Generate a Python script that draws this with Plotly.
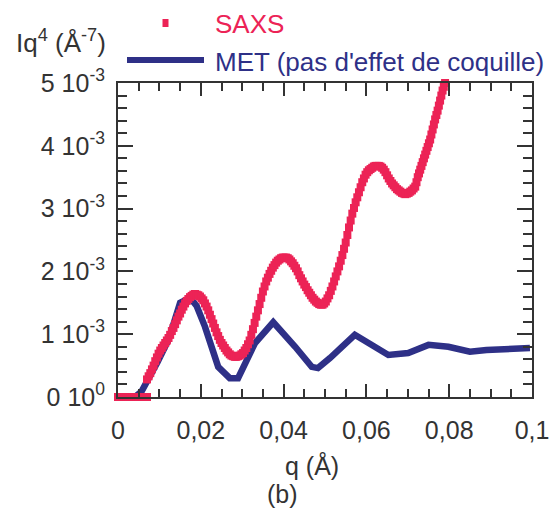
import plotly.graph_objects as go

# ---------------- data (intensity in units of 1e-3 Å^-7) ----------------
saxs_q = [0.0000, 0.0005, 0.0010, 0.0015, 0.0020, 0.0025, 0.0030, 0.0035,
          0.0040, 0.0045, 0.0050, 0.0055, 0.0060, 0.0065, 0.0070,
          0.0070, 0.0074, 0.0078, 0.0082, 0.0086, 0.0090, 0.0094, 0.0098,
          0.0102, 0.0106, 0.0110, 0.0114, 0.0118, 0.0122, 0.0126, 0.0130,
          0.0134, 0.0138, 0.0142, 0.0146, 0.0150, 0.0154, 0.0158, 0.0162,
          0.0166, 0.0170, 0.0174, 0.0178, 0.0182, 0.0186, 0.0190, 0.0194,
          0.0198, 0.0202, 0.0206, 0.0210, 0.0214, 0.0218, 0.0222, 0.0226,
          0.0230, 0.0234, 0.0238, 0.0242, 0.0246, 0.0250, 0.0254, 0.0258,
          0.0262, 0.0266, 0.0270, 0.0274, 0.0278, 0.0282, 0.0286, 0.0290,
          0.0294, 0.0298, 0.0302, 0.0306, 0.0310, 0.0314, 0.0318, 0.0322,
          0.0326, 0.0330, 0.0334, 0.0338, 0.0342, 0.0346, 0.0350, 0.0354,
          0.0358, 0.0362, 0.0366, 0.0370, 0.0374, 0.0378, 0.0382, 0.0386,
          0.0390, 0.0394, 0.0398, 0.0402, 0.0406, 0.0410, 0.0414, 0.0418,
          0.0422, 0.0426, 0.0430, 0.0434, 0.0438, 0.0442, 0.0446, 0.0450,
          0.0454, 0.0458, 0.0462, 0.0466, 0.0470, 0.0474, 0.0478, 0.0482,
          0.0486, 0.0490, 0.0494, 0.0498, 0.0502, 0.0506, 0.0510, 0.0514,
          0.0518, 0.0522, 0.0526, 0.0530, 0.0534, 0.0538, 0.0542, 0.0546,
          0.0550, 0.0554, 0.0558, 0.0562, 0.0566, 0.0570, 0.0574, 0.0578,
          0.0582, 0.0586, 0.0590, 0.0594, 0.0598, 0.0602, 0.0606, 0.0610,
          0.0614, 0.0618, 0.0622, 0.0626, 0.0630, 0.0634, 0.0638, 0.0642,
          0.0646, 0.0650, 0.0654, 0.0658, 0.0662, 0.0666, 0.0670, 0.0674,
          0.0678, 0.0682, 0.0686, 0.0690, 0.0694, 0.0698, 0.0702, 0.0706,
          0.0710, 0.0714, 0.0718, 0.0721, 0.0724, 0.0727, 0.0730, 0.0733,
          0.0736, 0.0739, 0.0742, 0.0745, 0.0748, 0.0751, 0.0754, 0.0757,
          0.0760, 0.0763, 0.0766, 0.0769, 0.0772, 0.0775, 0.0778, 0.0781,
          0.0784, 0.0787, 0.0790]
saxs_i = [0.00, 0.00, 0.00, 0.00, 0.00, 0.00, 0.00, 0.00,
          0.00, 0.00, 0.00, 0.00, 0.00, 0.00, 0.00,
          0.28, 0.33, 0.38, 0.44, 0.50, 0.57, 0.63, 0.69,
          0.74, 0.78, 0.82, 0.86, 0.90, 0.94, 0.99, 1.05,
          1.10, 1.16, 1.22, 1.28, 1.33, 1.39, 1.44, 1.49,
          1.53, 1.56, 1.59, 1.61, 1.63, 1.64, 1.63, 1.62,
          1.60, 1.57, 1.54, 1.49, 1.44, 1.38, 1.31, 1.24,
          1.17, 1.10, 1.03, 0.97, 0.91, 0.86, 0.82, 0.78,
          0.74, 0.71, 0.68, 0.66, 0.65, 0.64, 0.64, 0.65,
          0.66, 0.68, 0.70, 0.74, 0.78, 0.84, 0.90, 0.99,
          1.08, 1.18, 1.28, 1.38, 1.48, 1.58, 1.68, 1.76,
          1.84, 1.90, 1.96, 2.01, 2.06, 2.10, 2.14, 2.17,
          2.19, 2.21, 2.22, 2.22, 2.22, 2.21, 2.19, 2.16,
          2.13, 2.09, 2.05, 2.00, 1.94, 1.89, 1.84, 1.79,
          1.75, 1.70, 1.66, 1.62, 1.58, 1.55, 1.52, 1.50,
          1.48, 1.47, 1.47, 1.49, 1.52, 1.57, 1.62, 1.69,
          1.76, 1.84, 1.92, 2.00, 2.08, 2.17, 2.26, 2.36,
          2.46, 2.58, 2.70, 2.81, 2.92, 3.01, 3.10, 3.18,
          3.26, 3.34, 3.42, 3.48, 3.54, 3.58, 3.61, 3.63,
          3.65, 3.67, 3.68, 3.68, 3.68, 3.67, 3.65, 3.62,
          3.58, 3.53, 3.48, 3.44, 3.40, 3.37, 3.34, 3.31,
          3.29, 3.27, 3.25, 3.24, 3.23, 3.24, 3.25, 3.27,
          3.29, 3.32, 3.35, 3.42, 3.50, 3.56, 3.62, 3.68,
          3.74, 3.80, 3.86, 3.92, 3.98, 4.04, 4.10, 4.18,
          4.26, 4.34, 4.42, 4.49, 4.56, 4.64, 4.72, 4.80,
          4.88, 4.94, 5.00]

met_q = [0.0030, 0.0041, 0.0057, 0.0073, 0.0095, 0.0122, 0.0150, 0.0174,
         0.0190, 0.0210, 0.0242, 0.0270, 0.0290, 0.0331, 0.0375, 0.0428,
         0.0468, 0.0483, 0.0512, 0.0572, 0.0653, 0.0701, 0.0750, 0.0798,
         0.0850, 0.0890, 0.0947, 0.0995]
met_i = [0.00, 0.00, 0.09, 0.27, 0.55, 0.91, 1.50, 1.58,
         1.45, 1.12, 0.48, 0.30, 0.30, 0.86, 1.19, 0.80,
         0.48, 0.46, 0.62, 0.99, 0.67, 0.70, 0.83, 0.80,
         0.72, 0.75, 0.78, 0.78]

x_tickvals = [0, 0.02, 0.04, 0.06, 0.08, 0.1]
x_ticktext = ["0", "0,02", "0,04", "0,06", "0,08", "0,1"]
y_tickvals = [0, 1e-3, 2e-3, 3e-3, 4e-3, 5e-3]
y_ticktext = ["0 10<sup>0</sup>", "1 10<sup>-3</sup>", "2 10<sup>-3</sup>",
              "3 10<sup>-3</sup>", "4 10<sup>-3</sup>", "5 10<sup>-3</sup>"]

RED = "#EC2356"
NAVY = "#2E3087"
AXC = "#333333"
FONT = "Liberation Sans, Arial, sans-serif"

fig = go.Figure()
fig.add_trace(go.Scatter(
    x=met_q, y=[v * 1e-3 for v in met_i], mode="lines", name="MET (pas d'effet de coquille)",
    line=dict(color=NAVY, width=6.5), showlegend=False, cliponaxis=False))
fig.add_trace(go.Scatter(
    x=saxs_q, y=[v * 1e-3 for v in saxs_i], mode="markers", name="SAXS",
    marker=dict(symbol="square", size=8, color=RED, line=dict(width=0)),
    showlegend=False, cliponaxis=False))

fig.update_xaxes(range=[0, 0.1], tickmode="array", tickvals=x_tickvals, ticktext=x_ticktext,
                 showline=True, linecolor=AXC, linewidth=2, mirror="allticks",
                 ticks="inside", ticklen=13, tickwidth=2, tickcolor=AXC,
                 ticklabelstandoff=10, showgrid=False, zeroline=False, automargin=False,
                 layer="above traces",
                 tickfont=dict(family=FONT, size=25, color="#333"),
                 minor=dict(ticks="inside", ticklen=8, tickwidth=2, tickcolor=AXC,
                            tickmode="linear", dtick=0.005, tick0=0, showgrid=False))
fig.update_yaxes(range=[0, 5e-3], tickmode="array", tickvals=y_tickvals, ticktext=y_ticktext,
                 showline=True, linecolor=AXC, linewidth=2, mirror="allticks",
                 ticks="inside", ticklen=15, tickwidth=2, tickcolor=AXC,
                 ticklabelstandoff=6, showgrid=False, zeroline=False, automargin=False,
                 layer="above traces",
                 tickfont=dict(family=FONT, size=25, color="#333"),
                 minor=dict(ticks="inside", ticklen=9, tickwidth=2, tickcolor=AXC,
                            tickmode="linear", dtick=0.0002, tick0=0, showgrid=False))

# manual legend (paper coordinates; plot area spans page px 83..397 vertically, 118..532 horizontally)
def py(ypx):
    return (397 - ypx) / 314.0

def px(xpx):
    return (xpx - 118) / 414.0

fig.add_shape(type="line", xref="paper", yref="paper",
              x0=px(127), x1=px(204), y0=py(60), y1=py(60),
              line=dict(color=NAVY, width=6))
fig.add_shape(type="rect", xref="paper", yref="paper",
              x0=px(162.5), x1=px(168.5), y0=py(27), y1=py(19),
              fillcolor=RED, line=dict(width=0))

ann = [
    dict(text="SAXS", x=px(213), y=py(24), xanchor="left", yanchor="middle",
         font=dict(family=FONT, size=26, color=RED)),
    dict(text="MET (pas d'effet de coquille)", x=px(213), y=py(62), xanchor="left",
         yanchor="middle", font=dict(family=FONT, size=26, color=NAVY)),
    dict(text="Iq<sup>4</sup> (Å<sup>-7</sup>)", x=px(14), y=py(42), xanchor="left",
         yanchor="middle", font=dict(family=FONT, size=26, color="#333")),
    dict(text="q (Å)", x=px(312), y=py(465), xanchor="center", yanchor="middle",
         font=dict(family=FONT, size=25, color="#333")),
    dict(text="(b)", x=px(282), y=py(494), xanchor="center", yanchor="middle",
         font=dict(family=FONT, size=25, color="#333")),
]
for a in ann:
    fig.add_annotation(xref="paper", yref="paper", showarrow=False, **a)

# the page body adds an 8 px offset, so the figure is sized/margined to compensate
fig.update_layout(width=551, height=509, margin=dict(l=110, r=27, t=75, b=120),
                  plot_bgcolor="white", paper_bgcolor="white")

fig.write_html("out.html")
